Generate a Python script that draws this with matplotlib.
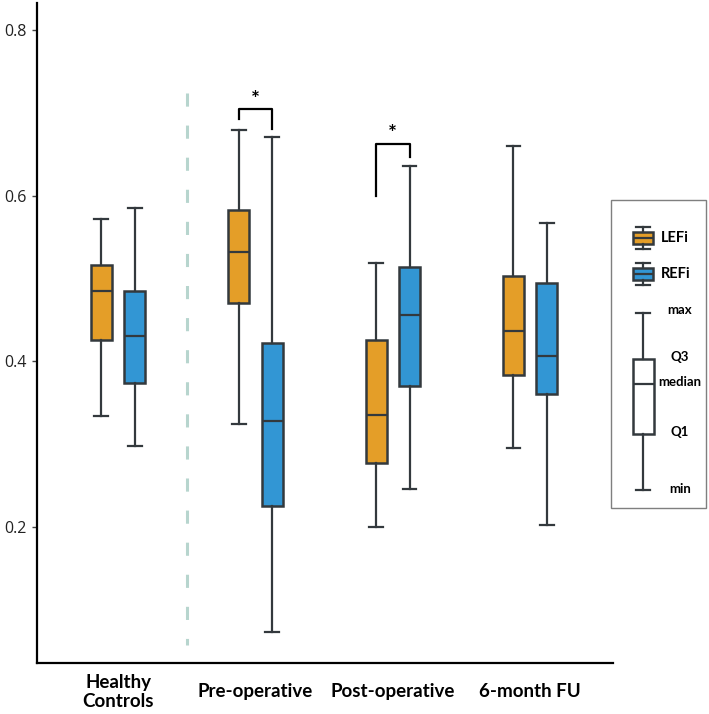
import numpy as np
import matplotlib.pyplot as plt
from matplotlib.patches import Rectangle

plt.rcParams['font.family'] = ['Open Sans', 'DejaVu Sans']

groups = ['Healthy\nControls', 'Pre-operative', 'Post-operative', '6-month FU']
series = ['LEFi', 'REFi']
colors = ['#e49e28', '#3296d4']

# five-number summaries, one value per group
lefi_min = [0.334, 0.324, 0.200, 0.295]
lefi_q1 = [0.425, 0.470, 0.277, 0.383]
lefi_med = [0.485, 0.532, 0.335, 0.436]
lefi_q3 = [0.516, 0.582, 0.426, 0.503]
lefi_max = [0.572, 0.679, 0.518, 0.660]

refi_min = [0.297, 0.073, 0.246, 0.202]
refi_q1 = [0.374, 0.225, 0.370, 0.360]
refi_med = [0.430, 0.328, 0.456, 0.406]
refi_q3 = [0.485, 0.422, 0.514, 0.494]
refi_max = [0.585, 0.671, 0.636, 0.567]

# significance brackets (group index, bar height, leg ends)
sig_groups = [1, 2]
sig_top = [0.704, 0.662]
sig_left = [0.692, 0.600]
sig_right = [0.681, 0.647]

yticks = [0.2, 0.4, 0.6, 0.8]
edge = '#33393d'


def make_stats(lo, q1, med, q3, hi):
    return [dict(whislo=a, q1=b, med=c, q3=d, whishi=e, fliers=[])
            for a, b, c, d, e in zip(lo, q1, med, q3, hi)]


def box_style(face):
    return dict(patch_artist=True, showfliers=False, manage_ticks=False,
                boxprops=dict(facecolor=face, edgecolor=edge, linewidth=1.8),
                medianprops=dict(color=edge, linewidth=1.6),
                whiskerprops=dict(color=edge, linewidth=1.6),
                capprops=dict(color=edge, linewidth=1.6))


fig = plt.figure(figsize=(7.09, 7.14), dpi=100)
ax = fig.add_axes([36.7 / 709, 1 - 662.7 / 714, (612.6 - 36.7) / 709, (662.7 - 2.7) / 714])

x = np.arange(len(groups))
off = 0.122
ax.bxp(make_stats(lefi_min, lefi_q1, lefi_med, lefi_q3, lefi_max),
       positions=x - off, widths=0.153, capwidths=0.1, **box_style(colors[0]))
ax.bxp(make_stats(refi_min, refi_q1, refi_med, refi_q3, refi_max),
       positions=x + off, widths=0.153, capwidths=0.1, **box_style(colors[1]))

# separator between controls and patients
ax.plot([0.5, 0.5], [0.724, 0.057], color='#b7d5ce', lw=2.2,
        linestyle=(0, (4.3, 6.2)), solid_capstyle='butt')

for g, top, l, r in zip(sig_groups, sig_top, sig_left, sig_right):
    ax.plot([g - off, g - off, g + off, g + off], [l, top, top, r],
            color='black', lw=1.6)
    ax.text(g, top + 0.012, '*', ha='center', va='center',
            fontsize=15, fontweight='bold', family=['Lato', 'DejaVu Sans'])

ax.set_xlim(-0.592, 3.60)
ax.set_ylim(0.0357, 0.833)
ax.set_yticks(yticks)
ax.set_yticklabels([f'{t:.1f}' for t in yticks])
ax.set_xticks(x)
ax.set_xticklabels(groups, fontsize=13.5, fontweight='bold',
                   family=['Lato', 'DejaVu Sans'], va='center', linespacing=1.1)
ax.tick_params(axis='x', length=0, pad=21)
ax.tick_params(axis='y', length=3.6, width=1, color='#444444', pad=3.5,
               labelsize=11.5, labelcolor='#222222')
for s in ['top', 'right']:
    ax.spines[s].set_visible(False)
for s in ['left', 'bottom']:
    ax.spines[s].set_linewidth(1.6)
    ax.spines[s].set_color('black')

# hand-made legend with box glyphs, in pixel units
lax = fig.add_axes([611 / 709, 1 - 508 / 714, 95 / 709, 308 / 714])
lax.set_xlim(611, 706)
lax.set_ylim(508, 200)
lax.axis('off')
lax.add_patch(Rectangle((611, 200), 95, 308, fill=False, edgecolor='#7f7f7f',
                        lw=1.0, clip_on=False))

key_y = [238, 274]
for c, yk, name in zip(colors, key_y, series):
    lax.bxp([dict(whislo=yk + 11, q1=yk + 6, med=yk, q3=yk - 6, whishi=yk - 11, fliers=[])],
            positions=[643], widths=20, capwidths=14, **box_style(c))
    lax.text(661, yk, name, ha='left', va='center', fontsize=10.5,
             fontweight='bold', family=['Lato', 'DejaVu Sans'])

lax.bxp([dict(whislo=490, q1=434, med=384, q3=359, whishi=313, fliers=[])],
        positions=[643], widths=21, capwidths=14, **box_style('white'))
key_labels = ['max', 'Q3', 'median', 'Q1', 'min']
key_pos = [310, 357, 382, 432, 489]
for lab, yp in zip(key_labels, key_pos):
    lax.text(680, yp, lab, ha='center', va='center', fontsize=9.5,
             fontweight='bold', family=['Lato', 'DejaVu Sans'])

fig.savefig('out.png', dpi=100)
